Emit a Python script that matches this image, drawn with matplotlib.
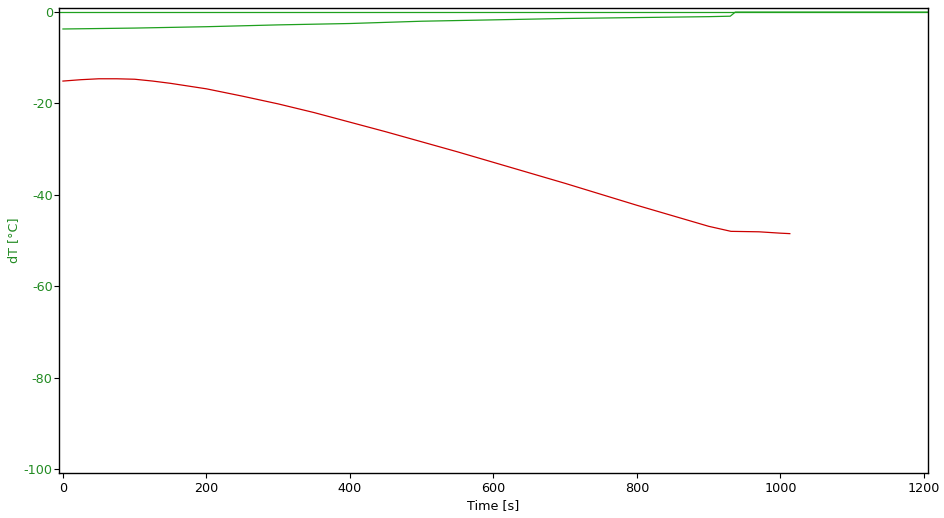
import matplotlib
matplotlib.use("Agg")
import matplotlib.pyplot as plt

plt.rcParams['axes.unicode_minus'] = False

# Red series (dT, °C) vs time (s)
red_t = [0, 25, 50, 75, 100, 125, 150, 200, 250, 300, 350, 400, 450, 500, 550, 600,
         650, 700, 750, 800, 850, 900, 931, 970, 1000, 1013]
red_v = [-15.1, -14.8, -14.6, -14.6, -14.7, -15.1, -15.6, -16.8, -18.4, -20.1, -22.0,
         -24.1, -26.2, -28.4, -30.6, -32.9, -35.2, -37.5, -39.9, -42.3, -44.6, -46.9,
         -48.0, -48.1, -48.4, -48.5]

# Green series (lower line)
green_t = [0, 50, 100, 150, 200, 250, 300, 350, 400, 450, 500, 550, 600, 650, 700,
           750, 800, 850, 900, 930, 937, 1205]
green_v = [-3.7, -3.6, -3.5, -3.35, -3.2, -3.0, -2.8, -2.65, -2.5, -2.25, -2.0, -1.85,
           -1.7, -1.55, -1.4, -1.3, -1.2, -1.1, -1.0, -0.9, 0.0, 0.0]

zero_level = 0.0

xticks = [0, 200, 400, 600, 800, 1000, 1200]
yticks = [0, -20, -40, -60, -80, -100]

GREEN = '#1ea01e'
TICKGREEN = '#228b22'
RED = '#cc0000'

fig = plt.figure(figsize=(9.44, 5.18), dpi=100)
ax = fig.add_axes([0.0625, 0.0869, 0.9205, 0.8977])

ax.axhline(zero_level, color=GREEN, lw=0.9)
ax.plot(green_t, green_v, color=GREEN, lw=0.9)
ax.plot(red_t, red_v, color=RED, lw=0.9)

ax.set_xlim(-5.5, 1205.5)
ax.set_ylim(-100.9, 0.9)
ax.set_xticks(xticks)
ax.set_yticks(yticks)
ax.tick_params(axis='y', colors='black', labelcolor=TICKGREEN, labelsize=9.2, length=3.5, pad=1)
ax.tick_params(axis='x', labelsize=9.2, length=3.5, pad=3)
ax.set_xlabel('Time [s]', fontsize=9.2, labelpad=3)
ax.set_ylabel('dT [°C]', fontsize=9.2, color=TICKGREEN, labelpad=3)
for s in ax.spines.values():
    s.set_linewidth(1.0)

fig.savefig('out.png', dpi=100)
